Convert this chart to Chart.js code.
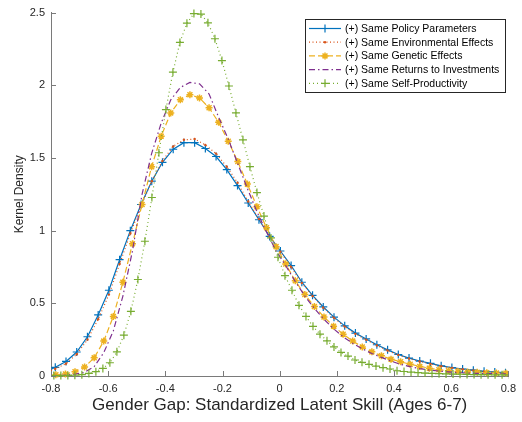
<!DOCTYPE html>
<html>
<head>
<meta charset="utf-8">
<script src="https://cdn.jsdelivr.net/npm/chart.js@4.4.1/dist/chart.umd.min.js"></script>
<style>
  html, body { margin: 0; padding: 0; background: #fff; }
  #wrap { width: 522px; height: 422px; }
</style>
</head>
<body>
<div id="wrap"><canvas id="c" width="522" height="422"></canvas></div>
<script>
// series names (legend order)
const seriesNames = [
  '(+) Same Policy Parameters',
  '(+) Same Environmental Effects',
  '(+) Same Genetic Effects',
  '(+) Same Returns to Investments',
  '(+) Same Self-Productivity'
];

// evaluation grids
const gridWide = [-0.8225, -0.785, -0.7475, -0.71, -0.6725, -0.635, -0.5975, -0.56, -0.5225, -0.485,
  -0.4475, -0.41, -0.3725, -0.335, -0.2975, -0.26, -0.2225, -0.185, -0.1475, -0.11,
  -0.0725, -0.035, 0.0025, 0.04, 0.0775, 0.115, 0.1525, 0.19, 0.2275, 0.265,
  0.3025, 0.34, 0.3775, 0.415, 0.4525, 0.49, 0.5275, 0.565, 0.6025, 0.64,
  0.6775, 0.715, 0.7525, 0.79, 0.8275];
const gridMid = [-0.8165, -0.783, -0.7495, -0.716, -0.6825, -0.649, -0.6155, -0.582, -0.5485, -0.515,
  -0.4815, -0.448, -0.4145, -0.381, -0.3475, -0.314, -0.2805, -0.247, -0.2135, -0.18,
  -0.1465, -0.113, -0.0795, -0.046, -0.0125, 0.021, 0.0545, 0.088, 0.1215, 0.155,
  0.1885, 0.222, 0.2555, 0.289, 0.3225, 0.356, 0.3895, 0.423, 0.4565, 0.49,
  0.5235, 0.557, 0.5905, 0.624, 0.6575, 0.691, 0.7245, 0.758, 0.7915, 0.825];
const gridNarrow = [-0.8145, -0.79, -0.7655, -0.741, -0.7165, -0.692, -0.6675, -0.643, -0.6185, -0.594,
  -0.5695, -0.545, -0.5205, -0.496, -0.4715, -0.447, -0.4225, -0.398, -0.3735, -0.349,
  -0.3245, -0.3, -0.2755, -0.251, -0.2265, -0.202, -0.1775, -0.153, -0.1285, -0.104,
  -0.0795, -0.055, -0.0305, -0.006, 0.0185, 0.043, 0.0675, 0.092, 0.1165, 0.141,
  0.1655, 0.19, 0.2145, 0.239, 0.2635, 0.288, 0.3125, 0.337, 0.3615, 0.386,
  0.4105, 0.435, 0.4595, 0.484, 0.5085, 0.533, 0.5575, 0.582, 0.6065, 0.631,
  0.6555, 0.68, 0.7045, 0.729, 0.7535, 0.778, 0.8025];

const policyVals = [0.025, 0.06, 0.1, 0.165, 0.27, 0.42, 0.59, 0.8, 1.0, 1.18,
  1.34, 1.47, 1.56, 1.605, 1.605, 1.565, 1.51, 1.42, 1.31, 1.19,
  1.075, 0.96, 0.86, 0.76, 0.645, 0.555, 0.475, 0.405, 0.345, 0.295,
  0.255, 0.215, 0.18, 0.148, 0.123, 0.103, 0.087, 0.07, 0.058, 0.048,
  0.04, 0.032, 0.027, 0.023, 0.02];
const environVals = [0.02, 0.05, 0.085, 0.15, 0.25, 0.39, 0.56, 0.77, 0.98, 1.17,
  1.34, 1.48, 1.58, 1.625, 1.63, 1.59, 1.53, 1.44, 1.33, 1.2,
  1.08, 0.96, 0.855, 0.75, 0.64, 0.55, 0.47, 0.4, 0.34, 0.29,
  0.25, 0.21, 0.175, 0.145, 0.12, 0.1, 0.083, 0.068, 0.056, 0.046,
  0.038, 0.031, 0.026, 0.022, 0.019];
const geneticVals = [0.006, 0.009, 0.014, 0.03, 0.062, 0.125, 0.24, 0.41, 0.645, 0.91,
  1.18, 1.44, 1.65, 1.81, 1.9, 1.935, 1.913, 1.845, 1.745, 1.615,
  1.475, 1.32, 1.165, 1.02, 0.89, 0.77, 0.655, 0.56, 0.478, 0.406,
  0.343, 0.288, 0.24, 0.2, 0.166, 0.139, 0.116, 0.098, 0.081, 0.066,
  0.054, 0.043, 0.036, 0.031, 0.027, 0.025, 0.023, 0.021, 0.019, 0.017];
const returnsVals = [0.002, 0.004, 0.007, 0.012, 0.025, 0.065, 0.16, 0.31, 0.55, 0.86,
  1.25, 1.53, 1.74, 1.9, 1.985, 2.02, 2.01, 1.94, 1.78, 1.63,
  1.46, 1.29, 1.13, 0.99, 0.86, 0.76, 0.65, 0.55, 0.465, 0.39,
  0.325, 0.27, 0.225, 0.187, 0.155, 0.128, 0.103, 0.08, 0.064, 0.051,
  0.041, 0.034, 0.028, 0.023, 0.02, 0.018, 0.017, 0.016, 0.015, 0.014];
const selfProdVals = [0.002, 0.003, 0.003, 0.004, 0.005, 0.009, 0.018, 0.03, 0.052, 0.091,
  0.166, 0.281, 0.445, 0.664, 0.927, 1.228, 1.536, 1.833, 2.09, 2.295,
  2.427, 2.493, 2.49, 2.43, 2.32, 2.17, 1.995, 1.81, 1.625, 1.44,
  1.262, 1.1, 0.95, 0.817, 0.69, 0.59, 0.486, 0.41, 0.342, 0.288,
  0.242, 0.2, 0.162, 0.137, 0.11, 0.094, 0.08, 0.068, 0.057, 0.048,
  0.036, 0.031, 0.027, 0.023, 0.02, 0.018, 0.016, 0.014, 0.013, 0.012,
  0.011, 0.01, 0.009, 0.009, 0.008, 0.008, 0.007];

const xTicks = [-0.8, -0.6, -0.4, -0.2, 0, 0.2, 0.4, 0.6, 0.8];
const yTicks = [0, 0.5, 1, 1.5, 2, 2.5];

function pts(xs, ys) {
  return xs.map((x, i) => ({x: x, y: ys[i]}));
}

const axisColor = '#7a7a7a';
const textColor = '#262626';
const FONT = 'Liberation Sans, Arial, Helvetica, sans-serif';

const datasets = [
  {label: seriesNames[0], data: pts(gridWide, policyVals), borderColor: '#0072BD',
   borderWidth: 1.2, pointStyle: 'cross', pointRadius: 4, pointBorderWidth: 1.2, order: 5},
  {label: seriesNames[1], data: pts(gridWide, environVals), borderColor: '#D95319',
   borderWidth: 1.2, borderDash: [1, 2.5], pointStyle: 'circle', pointRadius: 1.2,
   pointBackgroundColor: '#D95319', pointBorderWidth: 0, order: 4},
  {label: seriesNames[2], data: pts(gridMid, geneticVals), borderColor: '#EDB120',
   borderWidth: 1.2, borderDash: [6, 3], pointStyle: 'star', pointRadius: 3.5, pointBorderWidth: 1.5, order: 3},
  {label: seriesNames[3], data: pts(gridMid, returnsVals), borderColor: '#7E2F8E',
   borderWidth: 1.2, borderDash: [6, 3, 1.5, 3], pointRadius: 0, order: 2},
  {label: seriesNames[4], data: pts(gridNarrow, selfProdVals), borderColor: '#77AC30',
   borderWidth: 1.2, borderDash: [1, 3], pointStyle: 'cross', pointRadius: 4, pointBorderWidth: 1.2, order: 1}
];
datasets.forEach(d => {
  d.backgroundColor = d.borderColor;
  d.fill = false;
  d.tension = 0;
  d.clip = {left: 0, right: 0, top: 10, bottom: 6};
});

// inward tick marks + MATLAB-style legend box
const matlabDecor = {
  id: 'matlabDecor',
  afterDatasetsDraw(chart) {
    const ctx = chart.ctx;
    const xs = chart.scales.x, ys = chart.scales.y;
    const area = chart.chartArea;
    ctx.save();
    ctx.strokeStyle = axisColor;
    ctx.lineWidth = 1;
    ctx.beginPath();
    xTicks.forEach(v => {
      const px = Math.round(xs.getPixelForValue(v)) + 0.5;
      ctx.moveTo(px, area.bottom);
      ctx.lineTo(px, area.bottom - 5);
    });
    yTicks.forEach(v => {
      const py = Math.round(ys.getPixelForValue(v)) + 0.5;
      ctx.moveTo(area.left, py);
      ctx.lineTo(area.left + 5, py);
    });
    ctx.stroke();

    // legend
    const bx = 305.5, by = 19.5, bw = 200, bh = 73;
    ctx.fillStyle = '#fff';
    ctx.fillRect(bx, by, bw, bh);
    ctx.strokeStyle = '#262626';
    ctx.lineWidth = 1;
    ctx.strokeRect(bx, by, bw, bh);
    ctx.font = '10.5px ' + FONT;
    ctx.textBaseline = 'middle';
    ctx.textAlign = 'left';
    chart.data.datasets.forEach((d, i) => {
      const y = 28.5 + i * 13.7;
      ctx.save();
      ctx.strokeStyle = d.borderColor;
      ctx.fillStyle = d.borderColor;
      ctx.lineWidth = d.borderWidth;
      ctx.setLineDash(d.borderDash || []);
      ctx.beginPath();
      ctx.moveTo(309, y);
      ctx.lineTo(341, y);
      ctx.stroke();
      ctx.setLineDash([]);
      if (d.pointRadius > 0) {
        ctx.lineWidth = d.pointBorderWidth || 1;
        Chart.helpers.drawPoint(ctx, {
          pointStyle: d.pointStyle, radius: d.pointRadius, rotation: 0,
          borderWidth: d.pointStyle === 'circle' ? 0 : (d.pointBorderWidth || 1)
        }, 325, y);
      }
      ctx.restore();
      ctx.fillStyle = '#000';
      ctx.fillText(d.label, 345, y + 0.5);
    });
    ctx.restore();
  }
};

new Chart(document.getElementById('c'), {
  type: 'line',
  data: {datasets: datasets},
  plugins: [matlabDecor],
  options: {
    responsive: false,
    animation: false,
    devicePixelRatio: 1,
    layout: {padding: {top: 11, right: 8, left: 0, bottom: 0}},
    plugins: {legend: {display: false}, tooltip: {enabled: false}},
    scales: {
      x: {
        type: 'linear', min: -0.8, max: 0.8,
        afterBuildTicks: s => { s.ticks = xTicks.map(v => ({value: v})); },
        afterFit: s => { s.height = 46; },
        grid: {display: false, drawTicks: false},
        border: {display: true, color: axisColor, width: 1},
        ticks: {
          color: textColor, font: {family: FONT, size: 11}, padding: 6,
          maxRotation: 0, autoSkip: false,
          callback: v => String(+v.toFixed(1))
        },
        title: {display: true, text: 'Gender Gap: Standardized Latent Skill (Ages 6-7)',
          color: textColor, font: {family: FONT, size: 17}, padding: {top: 0, bottom: 6}}
      },
      y: {
        type: 'linear', min: 0, max: 2.5,
        afterBuildTicks: s => { s.ticks = yTicks.map(v => ({value: v})); },
        afterFit: s => { s.width = 51; },
        grid: {display: false, drawTicks: false},
        border: {display: true, color: axisColor, width: 1},
        ticks: {
          color: textColor, font: {family: FONT, size: 11}, padding: 6,
          callback: v => String(+v.toFixed(1))
        },
        title: {display: true, text: 'Kernel Density',
          color: textColor, font: {family: FONT, size: 12}, padding: {top: 12, bottom: 0}}
      }
    }
  }
});
</script>
</body>
</html>
